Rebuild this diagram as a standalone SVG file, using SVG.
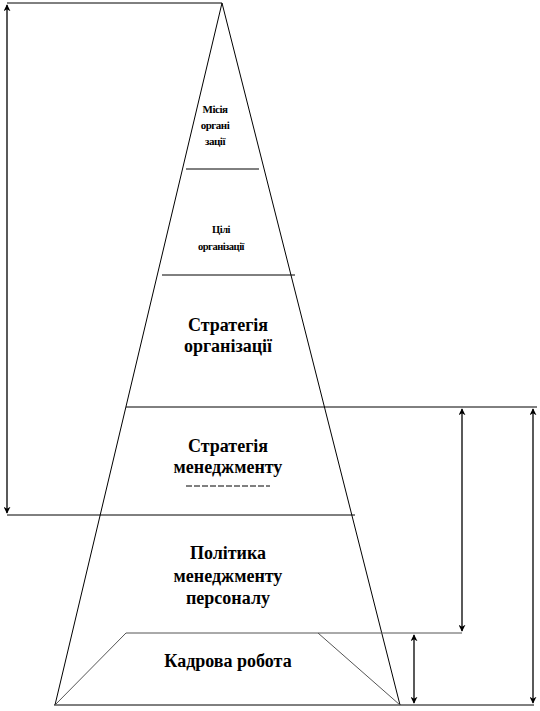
<svg xmlns="http://www.w3.org/2000/svg" width="540" height="711" viewBox="0 0 540 711">
<style>
.l{stroke:#000;stroke-width:1;fill:none}
.g{stroke:#555;stroke-width:1;fill:none}
.a{stroke:#000;stroke-width:1.3;fill:none;marker-start:url(#ah);marker-end:url(#ah)}
text{font-family:'Liberation Serif',serif;font-weight:bold;text-anchor:middle;fill:#000}
.s{font-size:11px;letter-spacing:-0.5px}
.m{font-size:18px}
</style>
<defs>
<marker id="ah" viewBox="0 0 10 10" refX="9" refY="5" markerWidth="7" markerHeight="7" markerUnits="userSpaceOnUse" orient="auto-start-reverse">
<path d="M0,0 L10,5 L0,10 L3,5 Z" fill="#000"/>
</marker>
</defs>
<rect width="540" height="711" fill="#fff"/>
<g id="pyramid">
<path class="l" d="M55,705 L222,3 L400,705"/>
<path class="l" d="M54,705 L534,705"/>
</g>
<g id="connectors">
<path class="l" d="M7,3 L222,3"/>
<path class="l" d="M7,515 L355,515"/>
<path class="l" d="M126,407 L537,407"/>
<path class="l" d="M186,169 L259,169"/>
<path class="l" d="M162,275 L295,275"/>
<path class="g" d="M318,633 L462,633"/>
<path class="a" d="M7,5 L7,513"/>
<path class="a" d="M462,409 L462,631"/>
<path class="a" d="M533,409 L533,703"/>
<path class="a" d="M414,635 L414,703"/>
</g>
<g id="mission">
<text class="s" x="215" y="113">Місія</text>
<text class="s" x="215" y="129">органі</text>
<text class="s" x="215" y="145">зації</text>
</g>
<g id="goals">
<text class="s" x="221" y="233" style="font-size:10.5px">Цілі</text>
<text class="s" x="221" y="250" style="font-size:10.5px">організації</text>
</g>
<g id="org-strategy">
<text class="m" x="228" y="331">Стратегія</text>
<text class="m" x="228" y="352">організації</text>
</g>
<g id="mgmt-strategy">
<text class="m" x="228" y="452">Стратегія</text>
<text class="m" x="228" y="473">менеджменту</text>
<path d="M186,486 L270,486" stroke="#000" stroke-width="1" stroke-dasharray="6,2"/>
</g>
<g id="policy">
<text class="m" x="228" y="559">Політика</text>
<text class="m" x="228" y="582">менеджменту</text>
<text class="m" x="228" y="604">персоналу</text>
</g>
<g id="hr-work">
<path class="g" d="M55,705 L126,633 L318,633 L400,705"/>
<text class="m" x="228" y="667">Кадрова робота</text>
</g>
</svg>
